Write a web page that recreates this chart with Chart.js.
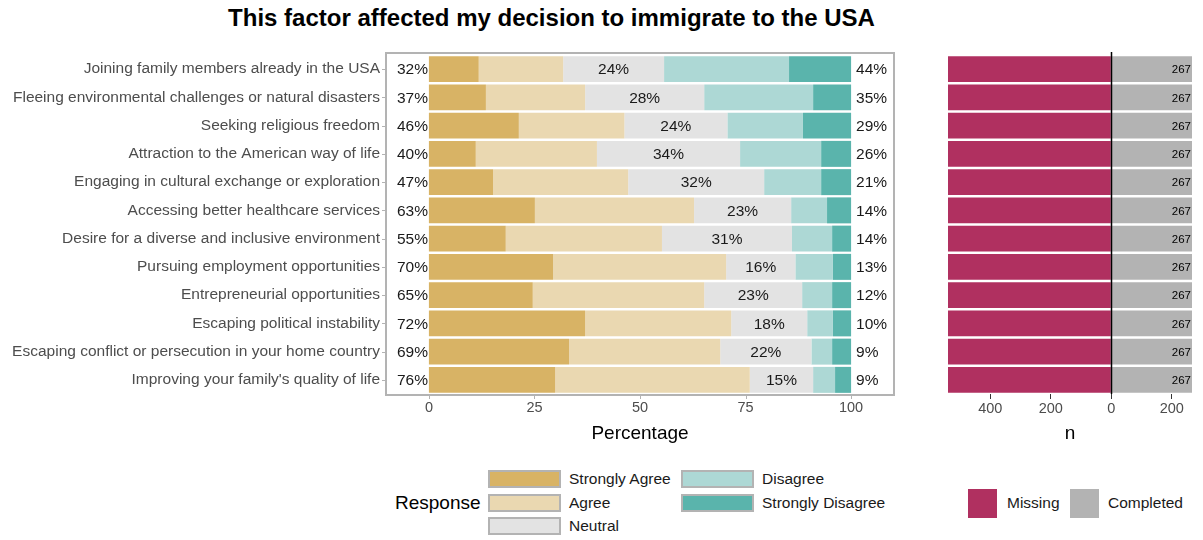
<!DOCTYPE html>
<html>
<head>
<meta charset="utf-8">
<script src="https://cdn.jsdelivr.net/npm/chart.js@4"></script>
<style>
  body { margin: 0; background: #fff; font-family: "Liberation Sans", Arial, sans-serif; }
  #wrap { position: relative; width: 1203px; height: 540px; overflow: hidden; }
  canvas { position: absolute; top: 0; }
  #title { position: absolute; left: 0; width: 1103px; top: 4px; text-align: center; font-weight: bold; font-size: 24px; line-height: 28px; color: #000; }
  .sw { position: absolute; box-sizing: border-box; }
  .lt { position: absolute; font-size: 15.5px; color: #1a1a1a; line-height: 18px; }
</style>
</head>
<body>
<div id="wrap">
  <div id="title">This factor affected my decision to immigrate to the USA</div>
  <canvas id="likert" width="900" height="460" style="left:0"></canvas>
  <canvas id="hist" width="303" height="460" style="left:900px"></canvas>
  <div id="legend"></div>
</div>
<script>
const categories = [
  'Joining family members already in the USA',
  'Fleeing environmental challenges or natural disasters',
  'Seeking religious freedom',
  'Attraction to the American way of life',
  'Engaging in cultural exchange or exploration',
  'Accessing better healthcare services',
  'Desire for a diverse and inclusive environment',
  'Pursuing employment opportunities',
  'Entrepreneurial opportunities',
  'Escaping political instability',
  'Escaping conflict or persecution in your home country',
  "Improving your family's quality of life"
]
const stronglyAgree    = [11.8, 13.5, 21.3, 11.1, 15.2, 25.1, 18.2, 29.4, 24.6, 37.0, 33.2, 29.9]
const agree            = [20.0, 23.5, 25.0, 28.7, 32.0, 37.7, 37.0, 41.0, 40.6, 34.6, 35.8, 46.1]
const neutral          = [23.9, 28.2, 24.4, 33.9, 32.2, 23.0, 30.8, 16.4, 23.2, 18.0, 21.6, 15.0]
const disagree         = [29.6, 25.8, 17.9, 19.2, 13.5, 8.5, 9.5, 8.9, 7.1, 6.1, 4.9, 5.2]
const stronglyDisagree = [14.7, 9.0, 11.4, 7.1, 7.1, 5.7, 4.5, 4.3, 4.5, 4.3, 4.5, 3.8]
const missing   = [540, 540, 540, 540, 540, 540, 540, 540, 540, 540, 540, 540] // bar runs past the panel edge
const completed = [267, 267, 267, 267, 267, 267, 267, 267, 267, 267, 267, 267]
const pctTicks = [0, 25, 50, 75, 100]
const nTicks = [-400, -200, 0, 200]

const responses = [
  { label: 'Strongly Agree', data: stronglyAgree, color: '#D8B365' },
  { label: 'Agree', data: agree, color: '#EAD8B1' },
  { label: 'Neutral', data: neutral, color: '#E3E3E3' },
  { label: 'Disagree', data: disagree, color: '#ADD8D5' },
  { label: 'Strongly Disagree', data: stronglyDisagree, color: '#5AB4AC' }
]

const FONT = '"Liberation Sans", Arial, sans-serif'
Chart.defaults.font.family = FONT

// frame + percent labels on the likert panel
const likertDeco = {
  id: 'likertDeco',
  afterDatasetsDraw(chart) {
    const { ctx, chartArea: a, scales: { x, y } } = chart
    ctx.save()
    ctx.strokeStyle = '#b3b3b3'
    ctx.lineWidth = 2
    ctx.strokeRect(a.left + 1, a.top - 2, a.right - a.left - 2, a.bottom - a.top + 3)
    ctx.lineWidth = 1
    pctTicks.forEach(v => {
      const px = Math.round(x.getPixelForValue(v)) + 0.5
      ctx.beginPath(); ctx.moveTo(px, a.bottom + 2); ctx.lineTo(px, a.bottom + 5); ctx.stroke()
    })
    categories.forEach((c, i) => {
      const py = Math.round(y.getPixelForValue(i)) + 0.5
      ctx.beginPath(); ctx.moveTo(a.left - 3, py); ctx.lineTo(a.left, py); ctx.stroke()
    })
    ctx.fillStyle = '#1a1a1a'
    ctx.font = '15.5px ' + FONT
    ctx.textBaseline = 'middle'
    categories.forEach((c, i) => {
      const py = y.getPixelForValue(i) + 1
      const left = stronglyAgree[i] + agree[i]
      const right = disagree[i] + stronglyDisagree[i]
      ctx.textAlign = 'right'
      ctx.fillText(Math.round(left) + '%', x.getPixelForValue(0) - 1, py)
      ctx.textAlign = 'left'
      ctx.fillText(Math.round(right) + '%', x.getPixelForValue(100) + 5, py)
      ctx.textAlign = 'center'
      ctx.fillText(Math.round(neutral[i]) + '%', x.getPixelForValue(left + neutral[i] / 2), py)
    })
    ctx.restore()
  }
}

new Chart(document.getElementById('likert'), {
  type: 'bar',
  data: {
    labels: categories,
    datasets: responses.map(r => ({
      label: r.label,
      data: r.data,
      backgroundColor: r.color,
      borderWidth: 0,
      barPercentage: 0.92,
      categoryPercentage: 1
    }))
  },
  options: {
    indexAxis: 'y',
    responsive: false,
    animation: false,
    layout: { padding: { top: 55, right: 5, left: 0, bottom: 0 } },
    plugins: { legend: { display: false }, tooltip: { enabled: false } },
    scales: {
      x: {
        stacked: true,
        min: -10.4,
        max: 110.4,
        afterBuildTicks: s => { s.ticks = pctTicks.map(v => ({ value: v })) },
        afterFit: s => { s.height = 66 },
        grid: { display: false, drawTicks: false },
        border: { display: false },
        ticks: { color: '#4d4d4d', font: { size: 14.5 }, padding: 5 },
        title: { display: true, text: 'Percentage', color: '#000', font: { size: 19 }, padding: { top: 0, bottom: 15 } }
      },
      y: {
        stacked: true,
        afterFit: s => { s.width = 385 },
        grid: { display: false, drawTicks: false },
        border: { display: false },
        ticks: { color: '#4d4d4d', font: { size: 15.5 }, padding: 5 }
      }
    }
  },
  plugins: [likertDeco]
})

const histDeco = {
  id: 'histDeco',
  afterDatasetsDraw(chart) {
    const { ctx, chartArea: a, scales: { x, y } } = chart
    ctx.save()
    const zx = Math.round(x.getPixelForValue(0)) + 0.5
    ctx.strokeStyle = '#000'
    ctx.lineWidth = 1.5
    ctx.beginPath(); ctx.moveTo(zx, a.top - 3); ctx.lineTo(zx, a.bottom); ctx.stroke()
    ctx.fillStyle = '#000'
    ctx.font = '11.5px ' + FONT
    ctx.textAlign = 'right'
    ctx.textBaseline = 'middle'
    completed.forEach((v, i) => ctx.fillText(String(v), a.right - 1, y.getPixelForValue(i) + 1))
    ctx.restore()
  }
}

new Chart(document.getElementById('hist'), {
  type: 'bar',
  data: {
    labels: categories,
    datasets: [
      { label: 'Missing', data: missing.map(v => -v), backgroundColor: '#B03060', borderWidth: 0, barPercentage: 0.92, categoryPercentage: 1 },
      { label: 'Completed', data: completed, backgroundColor: '#B3B3B3', borderWidth: 0, barPercentage: 0.92, categoryPercentage: 1 }
    ]
  },
  options: {
    indexAxis: 'y',
    responsive: false,
    animation: false,
    layout: { padding: { top: 55, right: 11, left: 48, bottom: 0 } },
    plugins: { legend: { display: false }, tooltip: { enabled: false } },
    scales: {
      x: {
        stacked: true,
        min: -540,
        max: 267,
        afterBuildTicks: s => { s.ticks = nTicks.map(v => ({ value: v })) },
        afterFit: s => { s.height = 66 },
        grid: { display: true, drawOnChartArea: false, drawTicks: true, tickLength: 5, color: '#333' },
        border: { display: false },
        ticks: { color: '#4d4d4d', font: { size: 14.5 }, padding: 1, callback: v => String(Math.abs(v)) },
        title: { display: true, text: 'n', color: '#000', font: { size: 19 }, padding: { top: 0, bottom: 15 } }
      },
      y: { stacked: true, display: false }
    }
  },
  plugins: [histDeco]
})

// legends
const leg = document.getElementById('legend')
function add(html) { leg.insertAdjacentHTML('beforeend', html) }
add('<div class="lt" style="left:395px;top:492px;font-size:19px;color:#000;line-height:22px">Response</div>')
const slots = [[488, 470], [488, 494], [488, 517], [681, 470], [681, 494]]
responses.forEach((r, i) => {
  const [lx, ly] = slots[i]
  add(`<div class="sw" style="left:${lx}px;top:${ly}px;width:73px;height:18px;background:${r.color};border:2px solid #b3b3b3"></div>`)
  add(`<div class="lt" style="left:${lx + 81}px;top:${ly}px">${r.label}</div>`)
})
add('<div class="sw" style="left:968px;top:489px;width:29px;height:29px;background:#B03060"></div>')
add('<div class="lt" style="left:1007px;top:494px">Missing</div>')
add('<div class="sw" style="left:1070px;top:489px;width:29px;height:29px;background:#B3B3B3"></div>')
add('<div class="lt" style="left:1108px;top:494px">Completed</div>')
</script>
</body>
</html>
